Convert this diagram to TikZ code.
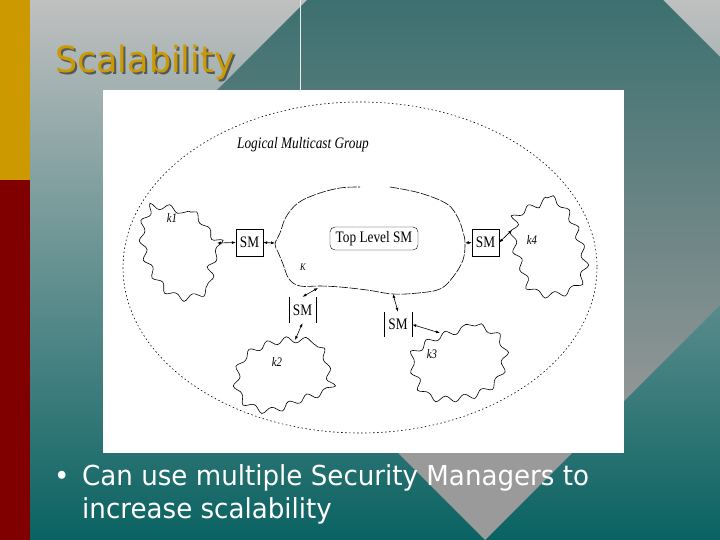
\documentclass[tikz,border=0pt]{standalone}
\usepackage{fontspec}
\usetikzlibrary{arrows.meta,decorations.pathmorphing}
\definecolor{slidegold}{HTML}{CC9900}
\definecolor{slidered}{HTML}{800000}
\definecolor{bgtop}{HTML}{C0C0C0}
\definecolor{bgmid}{HTML}{96A2A0}
\definecolor{bgbot}{HTML}{0A6262}
\definecolor{dmtop}{HTML}{3D7070}
\definecolor{dmbot}{HTML}{9A9A9A}
\newfontfamily\slidefont[FakeStretch=0.97]{DejaVu Sans}
\newfontfamily\bulletfont[FakeStretch=0.95]{DejaVu Sans}
\newfontfamily\figfont[FakeStretch=0.83]{Liberation Serif}

\begin{document}
\begin{tikzpicture}[x=1pt, y=-1pt,
    smbox/.style={minimum width=27pt, minimum height=27pt, inner sep=0pt, font=\figfont\fontsize{16}{16}\selectfont},
    link/.style={{Latex[length=4pt,width=3pt]}-{Latex[length=4pt,width=3pt]}, line width=0.6pt},
    blob/.style={line width=0.6pt, decorate, decoration={snake, segment length=19pt, amplitude=3.2pt}},
    lbl/.style={font=\figfont\itshape\fontsize{13}{13}\selectfont}]
    \useasboundingbox (0,0) rectangle (720,540);
    % Slide background
    \shade[top color=bgtop, middle color=bgmid, bottom color=bgbot] (0,0) rectangle (720,540);
    \begin{scope}
        \clip (485,-178) -- (844,181) -- (485,540) -- (126,181) -- cycle;
        \shade[top color=dmtop, bottom color=dmbot] (30,0) rectangle (720,440);
        \fill[dmbot] (30,440) rectangle (720,540);
    \end{scope}
    \fill[slidegold] (0,0) rectangle (30,180);
    \fill[slidered] (0,180) rectangle (30,540);
    \draw[line width=0.8pt, white!85!gray] (300,0) -- (300,90);
    % Title
    \node[anchor=base west, inner sep=0pt, text=black, opacity=0.5, font=\slidefont\fontsize{36}{36}\selectfont] at (57,75) {Scalability};
    \node (title) [anchor=base west, inner sep=0pt, text=slidegold, font=\slidefont\fontsize{36}{36}\selectfont] at (55,73) {Scalability};
    % Figure
    \fill[white] (103,90) rectangle (624,453);
    \draw[line width=0.6pt, dash pattern=on 1.5pt off 2.5pt] (360,267.5) ellipse (237 and 165.5);
    \node[lbl, font=\figfont\itshape\fontsize{16}{16}\selectfont] (group) at (303,145) {Logical Multicast Group};
    % Reference coordinates
    \coordinate (k1e) at (217,243);
    \coordinate (Kw) at (275,243);
    \coordinate (Ke) at (465,243);
    \coordinate (Ks2) at (318,288);
    \coordinate (Ks3) at (393,294);
    \coordinate (k2n) at (295,340);
    \coordinate (k3n) at (440,333);
    \coordinate (k4w) at (512,230);
    % Key cloud K
    \draw[line width=0.6pt, dash pattern=on 9pt off 1.5pt] plot[smooth, tension=0.6] coordinates {(390,187) (420,193) (447,204) (458,218) (463,232) (465,243) (463,260) (453,277) (440,289) (418,293) (393,294) (367,290) (340,287) (320,286) (300,286) (289,279) (283,264) (278,252) (275,244) (280,233) (286,217) (298,203) (317,194) (340,188) (360,187)};
    \node[lbl, font=\figfont\itshape\fontsize{10}{10}\selectfont] (Klabel) at (303,267) {K};
    \node[draw, rounded corners=5pt, minimum width=88pt, minimum height=23pt, inner sep=0pt, font=\figfont\fontsize{16}{16}\selectfont] (topsm) at (374,238.5) {Top Level SM};
    % Subgroups
    \draw[blob] plot[smooth cycle, tension=0.7] coordinates {(155,204) (190,212) (205,230) (217,243) (208,265) (205,288) (175,295) (150,270) (140,235) (145,214)};
    \draw[blob] plot[smooth cycle, tension=0.7] coordinates {(287,340) (318,347) (325,370) (327,388) (300,398) (265,410) (238,396) (237,367) (252,350)};
    \draw[blob] plot[smooth cycle, tension=0.7] coordinates {(440,333) (475,326) (498,342) (498,368) (487,385) (460,396) (425,395) (412,375) (408,355) (422,342)};
    \draw[blob] plot[smooth cycle, tension=0.7] coordinates {(515,208) (547,198) (565,215) (575,240) (580,268) (565,290) (530,291) (517,265) (509,240) (511,222)};
    \node[lbl] (k1) at (172,218) {k1};
    \node[lbl] (k2) at (277,362) {k2};
    \node[lbl] (k3) at (432,354) {k3};
    \node[lbl] (k4) at (532,240) {k4};
    % Security managers
    \node[smbox, draw] (sm1) at (249.5,242.5) {SM};
    \node[smbox, draw] (sm4) at (485.5,242.5) {SM};
    \node[smbox, minimum height=26pt] (sm2) at (302.5,310) {SM};
    \node[smbox, minimum width=28pt, minimum height=25pt] (sm3) at (398,324.5) {SM};
    \draw[line width=0.6pt] (sm2.north west) -- (sm2.south west) (sm2.north east) -- (sm2.south east);
    \draw[line width=0.6pt] (sm3.north west) -- (sm3.south west) (sm3.north east) -- (sm3.south east);
    % SM links
    \draw[link] (k1e) -- (sm1.west);
    \draw[link] (sm1.east) -- (Kw);
    \draw[link] (Ke) -- (sm4.west);
    \draw[link] (sm4.east) -- (k4w);
    \draw[link] (Ks2) -- (sm2.north);
    \draw[link] (sm2.south) -- (k2n);
    \draw[link] (Ks3) -- (sm3.north);
    \draw[link] (sm3.east) -- (k3n);
    % Bullet text
    \node[anchor=base west, inner sep=0pt, text=white, font=\bulletfont\fontsize{27.5}{33}\selectfont] (dot) at (54,485) {•};
    \node[anchor=base west, inner sep=0pt, text=white, font=\bulletfont\fontsize{27.5}{33}\selectfont] (line1) at (82,485) {Can use multiple Security Managers to};
    \node[anchor=base west, inner sep=0pt, text=white, font=\bulletfont\fontsize{27.5}{33}\selectfont] (line2) at (82,518) {increase scalability};
\end{tikzpicture}
\end{document}
